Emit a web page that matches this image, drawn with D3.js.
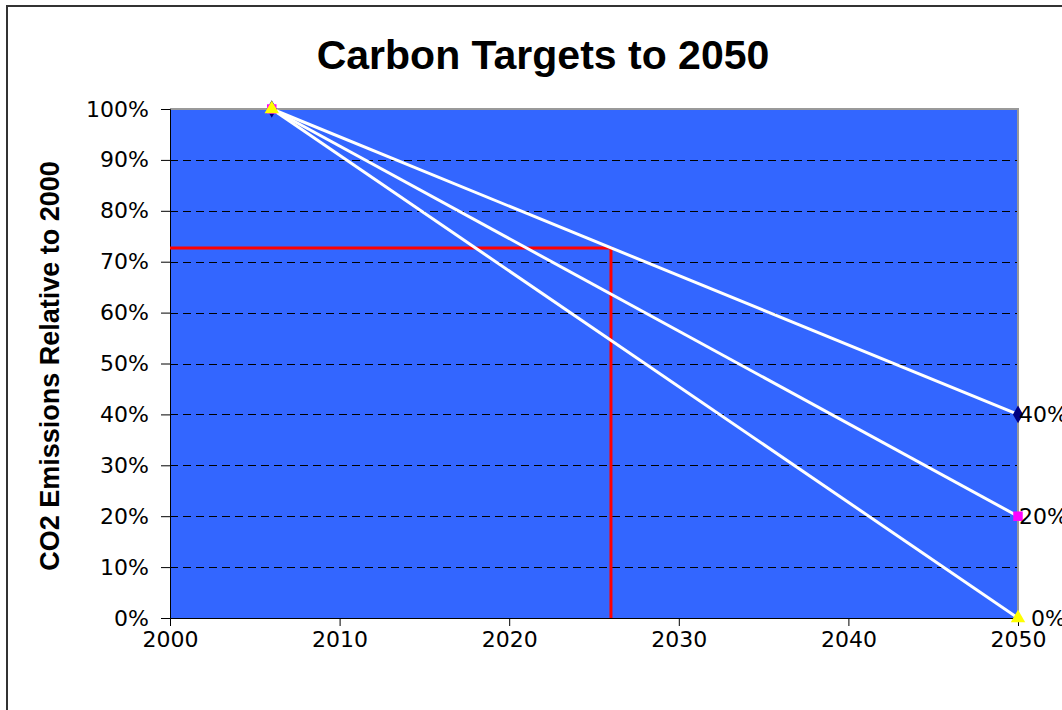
<!DOCTYPE html>
<html>
<head>
<meta charset="utf-8">
<script src="https://cdn.jsdelivr.net/npm/d3@7"></script>
<style>
  body { margin: 0; background: #fff; }
  svg { display: block; }
</style>
</head>
<body>
<svg id="chart" width="1062" height="710"></svg>
<script>
// Data
var years = [2006, 2050];
var target40 = [1.0, 0.4];
var target20 = [1.0, 0.2];
var target0 = [1.0, 0.0];
var endLabels = ['40%', '20%', '0%'];
var xTicks = [2000, 2010, 2020, 2030, 2040, 2050];
var yTicks = [0, 0.1, 0.2, 0.3, 0.4, 0.5, 0.6, 0.7, 0.8, 0.9, 1.0];
var markerX = [2000, 2026, 2026];
var markerY = [0.727, 0.727, 0];

var series = [
    { values: target40, label: endLabels[0], shape: 'diamond', color: '#000080' },
    { values: target20, label: endLabels[1], shape: 'square', color: '#FF00FF' },
    { values: target0, label: endLabels[2], shape: 'triangle', color: '#FFFF00' }
];

var svg = d3.select('#chart');
var m = { left: 170, right: 1018, top: 109, bottom: 618 };
var TXT = 'DejaVu Sans, Verdana, sans-serif';
var ARIAL = 'Liberation Sans, Arial, sans-serif';

var x = d3.scaleLinear().domain([2000, 2050]).range([m.left, m.right]);
var y = d3.scaleLinear().domain([0, 1]).range([m.bottom, m.top]);

// outer frame
svg.append('rect').attr('x', 7).attr('y', 6).attr('width', 1080).attr('height', 720)
    .attr('fill', 'none').attr('stroke', '#333').attr('stroke-width', 2);

// plot area
svg.append('rect').attr('x', m.left).attr('y', m.top)
    .attr('width', m.right - m.left).attr('height', m.bottom - m.top)
    .attr('fill', '#3366FF');

// dashed gridlines
svg.append('g').selectAll('line').data(yTicks.slice(1, -1)).enter().append('line')
    .attr('x1', m.left).attr('x2', m.right)
    .attr('y1', d => Math.round(y(d)) + 0.5).attr('y2', d => Math.round(y(d)) + 0.5)
    .attr('stroke', '#000').attr('stroke-dasharray', '8,5');

// top & right border (grey)
svg.append('path')
    .attr('d', `M${m.left},${m.top}H${m.right}V${m.bottom}`)
    .attr('fill', 'none').attr('stroke', '#999').attr('stroke-width', 2);

// axes
var yAxis = d3.axisLeft(y).tickValues(yTicks).tickFormat(d3.format('.0%')).tickSize(9).tickPadding(12);
var xAxis = d3.axisBottom(x).tickValues(xTicks).tickFormat(d3.format('d')).tickSize(8).tickPadding(5);

var gy = svg.append('g').attr('transform', `translate(${m.left},0)`).call(yAxis);
var gx = svg.append('g').attr('transform', `translate(0,${m.bottom})`).call(xAxis);
[gx, gy].forEach(g => {
    g.select('.domain').attr('stroke', '#000');
    g.selectAll('.tick line').attr('stroke', '#000');
    g.selectAll('text').attr('font-family', TXT).attr('font-size', 22).attr('fill', '#000');
});

// red guide line
var guide = d3.line().x((d, i) => x(markerX[i])).y(d => y(d));
svg.append('path').datum(markerY).attr('d', guide)
    .attr('fill', 'none').attr('stroke', '#FF0000').attr('stroke-width', 3);

// target lines
var line = d3.line().x((d, i) => x(years[i])).y(d => y(d));
svg.append('g').selectAll('path').data(series).enter().append('path')
    .attr('d', s => line(s.values))
    .attr('fill', 'none').attr('stroke', '#fff').attr('stroke-width', 3);

// markers
var shapes = { diamond: d3.symbolDiamond, square: d3.symbolSquare, triangle: d3.symbolTriangle };
series.forEach(s => {
    svg.append('g').selectAll('path').data(s.values).enter().append('path')
        .attr('transform', (d, i) => `translate(${x(years[i])},${y(d)})`)
        .attr('d', d3.symbol().type(shapes[s.shape]).size(90))
        .attr('fill', s.color);
});

// end labels
svg.append('g').selectAll('text').data(series).enter().append('text')
    .attr('x', (s, i) => x(years[1]) + (i === 2 ? 13 : 1))
    .attr('y', s => y(s.values[1]))
    .attr('dy', '0.36em')
    .attr('font-family', TXT).attr('font-size', 22).attr('fill', '#000')
    .text(s => s.label);

// title
svg.append('text').attr('x', 543).attr('y', 69).attr('text-anchor', 'middle')
    .attr('font-family', ARIAL).attr('font-weight', 'bold')
    .attr('font-size', 41).text('Carbon Targets to 2050');

// y axis title
svg.append('text').attr('transform', 'translate(59,366) rotate(-90)').attr('text-anchor', 'middle')
    .attr('font-family', ARIAL).attr('font-weight', 'bold')
    .attr('font-size', 27).text('CO2 Emissions Relative to 2000');
</script>
</body>
</html>
